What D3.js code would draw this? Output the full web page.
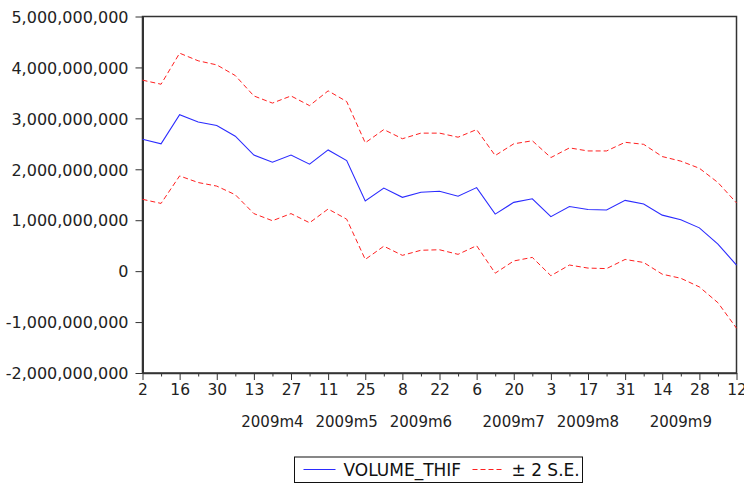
<!DOCTYPE html>
<html>
<head>
<meta charset="utf-8">
<script src="https://d3js.org/d3.v7.min.js"></script>
<style>
  body {
    margin: 0;
    background: #fff;
    font-family: "DejaVu Sans", sans-serif;
  }
  .axis text {
    fill: #222;
    font-family: "DejaVu Sans", sans-serif;
  }
  .axis path, .axis line {
    stroke: #333;
  }
  .month {
    fill: #222;
    font-size: 15px;
  }
  .legend text {
    fill: #111;
    font-size: 17px;
  }
</style>
</head>
<body>
<script>
  // weekly observations, values in billions
  var dates = [
    "2009-03-02", "2009-03-09", "2009-03-16", "2009-03-23", "2009-03-30",
    "2009-04-06", "2009-04-13", "2009-04-20", "2009-04-27",
    "2009-05-04", "2009-05-11", "2009-05-18", "2009-05-25",
    "2009-06-01", "2009-06-08", "2009-06-15", "2009-06-22", "2009-06-29",
    "2009-07-06", "2009-07-13", "2009-07-20", "2009-07-27",
    "2009-08-03", "2009-08-10", "2009-08-17", "2009-08-24", "2009-08-31",
    "2009-09-07", "2009-09-14", "2009-09-21", "2009-09-28",
    "2009-10-05", "2009-10-12"
  ];

  var volume = [2.59, 2.50, 3.07, 2.93, 2.86, 2.65, 2.28, 2.14, 2.28, 2.10, 2.38,
                2.17, 1.38, 1.63, 1.45, 1.55, 1.57, 1.47, 1.64, 1.12, 1.35, 1.42,
                1.07, 1.27, 1.21, 1.20, 1.39, 1.32, 1.10, 1.01, 0.85, 0.53, 0.12];

  var upper = [3.75, 3.67, 4.28, 4.13, 4.05, 3.84, 3.44, 3.30, 3.44, 3.25, 3.54,
               3.33, 2.52, 2.78, 2.60, 2.71, 2.71, 2.63, 2.78, 2.27, 2.50, 2.56,
               2.23, 2.42, 2.36, 2.36, 2.53, 2.49, 2.25, 2.16, 2.02, 1.74, 1.34];

  var lower = [1.41, 1.33, 1.87, 1.74, 1.67, 1.50, 1.13, 0.99, 1.13, 0.95, 1.22,
               1.02, 0.23, 0.49, 0.31, 0.41, 0.42, 0.33, 0.50, -0.04, 0.20, 0.27,
               -0.09, 0.12, 0.06, 0.05, 0.23, 0.17, -0.06, -0.14, -0.31, -0.62, -1.12];

  var yTicks = [-2, -1, 0, 1, 2, 3, 4, 5];

  var monthLabels = [
    {label: "2009m4", at: "2009-04-20"},
    {label: "2009m5", at: "2009-05-18"},
    {label: "2009m6", at: "2009-06-15"},
    {label: "2009m7", at: "2009-07-20"},
    {label: "2009m8", at: "2009-08-17"},
    {label: "2009m9", at: "2009-09-21"}
  ];

  var legendItems = [
    {name: "VOLUME_THIF", color: "#2b2bff", dash: null},
    {name: "\u00b1 2 S.E.", color: "#ff2020", dash: "5,3"}
  ];

  var UNIT = 1e9;

  var margin = {top: 16.5, right: 7.5, bottom: 110, left: 142.5};
  var W = 744, H = 483;
  var width = W - margin.left - margin.right,
      height = H - margin.top - margin.bottom;

  var x = d3.scalePoint()
      .domain(dates)
      .range([0, width]);

  var y = d3.scaleLinear()
      .domain([-2 * UNIT, 5 * UNIT])
      .range([height, 0]);

  var svg = d3.select("body").append("svg")
      .attr("width", W)
      .attr("height", H)
    .append("g")
      .attr("transform", `translate(${margin.left},${margin.top})`);

  // frame
  svg.append("rect")
      .attr("width", width)
      .attr("height", height)
      .attr("fill", "none")
      .attr("stroke", "#333")
      .attr("stroke-width", 1.5);

  // plain hyphen for negatives, like the original
  var fmt = d3.formatLocale({decimal: ".", thousands: ",", grouping: [3],
                             currency: ["", ""], minus: "-"}).format(",");

  var yAxis = d3.axisLeft(y)
      .tickValues(yTicks.map(d => d * UNIT))
      .tickFormat(d => fmt(d))
      .tickSizeInner(7)
      .tickSizeOuter(0)
      .tickPadding(7);

  var gy = svg.append("g")
      .attr("class", "y axis")
      .call(yAxis);
  gy.selectAll("text").style("font-size", "16px").attr("dy", "0.36em");
  gy.select(".domain").attr("stroke-width", 2);

  var xAxis = d3.axisBottom(x)
      .tickFormat((d, i) => i % 2 == 0 ? String(+d.slice(8)) : "")
      .tickSizeInner(3.5)
      .tickSizeOuter(0)
      .tickPadding(4);

  var gx = svg.append("g")
      .attr("class", "x axis")
      .attr("transform", `translate(0,${height})`)
      .call(xAxis);
  gx.selectAll(".tick").filter((d, i) => i % 2 == 0)
      .select("line").attr("y2", 7);
  gx.selectAll("text")
      .style("font-size", "15.5px")
      .attr("y", 11)
      .attr("dy", "0.71em");
  gx.select(".domain").attr("stroke-width", 1.5);

  svg.selectAll(".month")
      .data(monthLabels)
    .enter().append("text")
      .attr("class", "month")
      .attr("x", d => x(d.at))
      .attr("y", height + 53.5)
      .attr("text-anchor", "middle")
      .text(d => d.label);

  var line = d3.line()
      .x((d, i) => x(dates[i]))
      .y(d => y(d * UNIT));

  [upper, lower].forEach(function(s) {
    svg.append("path")
        .datum(s)
        .attr("fill", "none")
        .attr("stroke", legendItems[1].color)
        .attr("stroke-width", 1)
        .attr("stroke-dasharray", legendItems[1].dash)
        .attr("d", line);
  });

  svg.append("path")
      .datum(volume)
      .attr("fill", "none")
      .attr("stroke", legendItems[0].color)
      .attr("stroke-width", 1.1)
      .attr("d", line);

  // legend
  var lg = d3.select("svg").append("g")
      .attr("class", "legend")
      .attr("transform", "translate(294.5,457)");

  lg.append("rect")
      .attr("width", 288)
      .attr("height", 25.5)
      .attr("fill", "#fff")
      .attr("stroke", "#111")
      .attr("stroke-width", 1);

  var offsets = [{x0: 9, x1: 41, tx: 49}, {x0: 178, x1: 209, tx: 217}];

  legendItems.forEach(function(d, i) {
    var o = offsets[i];
    lg.append("line")
        .attr("x1", o.x0).attr("x2", o.x1)
        .attr("y1", 12.5).attr("y2", 12.5)
        .attr("stroke", d.color)
        .attr("stroke-width", 1.2)
        .attr("stroke-dasharray", d.dash);
    lg.append("text")
        .attr("x", o.tx)
        .attr("y", 19)
        .text(d.name);
  });
</script>
</body>
</html>
